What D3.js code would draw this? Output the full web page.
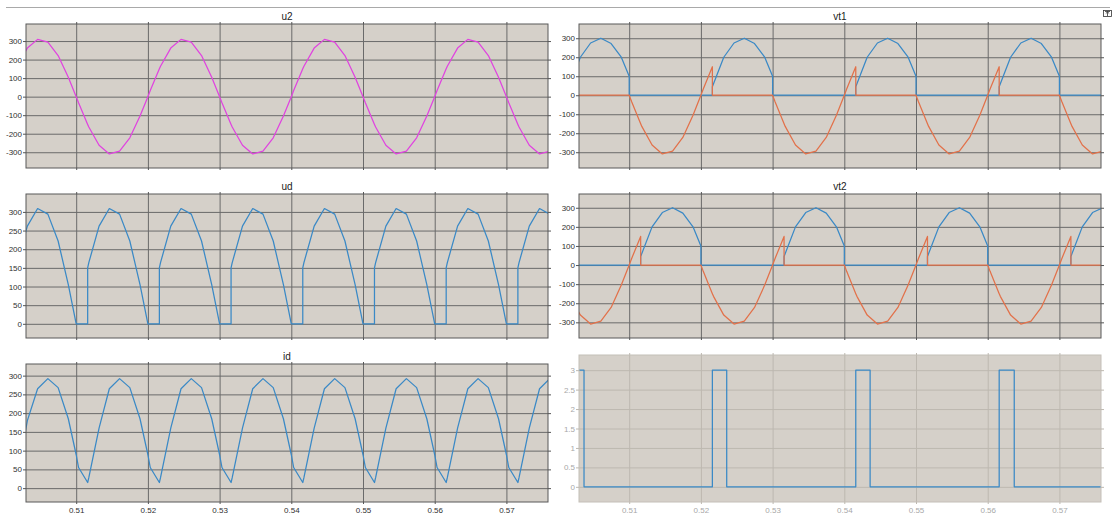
<!DOCTYPE html>
<html>
<head>
<meta charset="utf-8">
<script src="https://cdn.jsdelivr.net/npm/d3@7"></script>
<style>
  html, body { margin: 0; padding: 0; background: #ffffff; }
  svg { display: block; font-family: "Liberation Sans", Arial, Helvetica, sans-serif; }
</style>
</head>
<body>
<svg id="chart" width="1113" height="515"></svg>
<script>
// ---- sampled simulation output (s, V / A) ----
// Shared time base; repeated instants mark switching events (zero crossings and firing).
const time = [
  0.50176, 0.50319, 0.50462, 0.50605, 0.50748, 0.50890, 0.51, 0.51, 0.51033, 0.5116, 0.5116, 0.51176, 0.51319, 0.51462, 0.51605, 0.51748, 0.51890,
  0.52, 0.52, 0.52033, 0.5216, 0.5216, 0.52176, 0.52319, 0.52462, 0.52605, 0.52748, 0.52890, 0.53, 0.53, 0.53033, 0.5316, 0.5316, 0.53176, 0.53319, 0.53462, 0.53605, 0.53748, 0.53890,
  0.54, 0.54, 0.54033, 0.5416, 0.5416, 0.54176, 0.54319, 0.54462, 0.54605, 0.54748, 0.54890, 0.55, 0.55, 0.55033, 0.5516, 0.5516, 0.55176, 0.55319, 0.55462, 0.55605, 0.55748, 0.55890,
  0.56, 0.56, 0.56033, 0.5616, 0.5616, 0.56176, 0.56319, 0.56462, 0.56605, 0.56748, 0.56890, 0.57, 0.57, 0.57033, 0.5716, 0.5716, 0.57176, 0.57319, 0.57462, 0.57605
];

// supply voltage
const u2 = [
  164, 262, 309, 294, 222, 105, 0, 0, -33, -150, -150, -164, -262, -309, -294, -222, -105,
  0, 0, 33, 150, 150, 164, 262, 309, 294, 222, 105, 0, 0, -33, -150, -150, -164, -262, -309, -294, -222, -105,
  0, 0, 33, 150, 150, 164, 262, 309, 294, 222, 105, 0, 0, -33, -150, -150, -164, -262, -309, -294, -222, -105,
  0, 0, 33, 150, 150, 164, 262, 309, 294, 222, 105, 0, 0, -33, -150, -150, -164, -262, -309, -294
];

// rectified output voltage
const ud = [
  164, 262, 309, 294, 222, 105, 0, 0, 0, 0, 150, 164, 262, 309, 294, 222, 105,
  0, 0, 0, 0, 150, 164, 262, 309, 294, 222, 105, 0, 0, 0, 0, 150, 164, 262, 309, 294, 222, 105,
  0, 0, 0, 0, 150, 164, 262, 309, 294, 222, 105, 0, 0, 0, 0, 150, 164, 262, 309, 294, 222, 105,
  0, 0, 0, 0, 150, 164, 262, 309, 294, 222, 105, 0, 0, 0, 0, 150, 164, 262, 309, 294
];

// load current
const id = [
  28, 180, 265, 292, 268, 185, 89, 89, 55, 15, 15, 28, 160, 265, 292, 268, 185,
  89, 89, 55, 15, 15, 28, 160, 265, 292, 268, 185, 89, 89, 55, 15, 15, 28, 160, 265, 292, 268, 185,
  89, 89, 55, 15, 15, 28, 160, 265, 292, 268, 185, 89, 89, 55, 15, 15, 28, 160, 265, 292, 268, 185,
  89, 89, 55, 15, 15, 28, 160, 265, 292, 268, 185, 89, 89, 55, 15, 15, 28, 160, 265, 292
];

// thyristor VT1: two measured channels
const vt1A = [
  60, 200, 275, 300, 272, 200, 100, 0, 0, 0, 0, 0, 0, 0, 0, 0, 0,
  0, 0, 0, 0, 45, 60, 200, 275, 300, 272, 200, 100, 0, 0, 0, 0, 0, 0, 0, 0, 0, 0,
  0, 0, 0, 0, 45, 60, 200, 275, 300, 272, 200, 100, 0, 0, 0, 0, 0, 0, 0, 0, 0, 0,
  0, 0, 0, 0, 45, 60, 200, 275, 300, 272, 200, 100, 0, 0, 0, 0, 0, 0, 0, 0
];
const vt1B = [
  0, 0, 0, 0, 0, 0, 0, 0, -33, -150, -150, -164, -262, -309, -294, -222, -105,
  0, 0, 33, 150, 0, 0, 0, 0, 0, 0, 0, 0, 0, -33, -150, -150, -164, -262, -309, -294, -222, -105,
  0, 0, 33, 150, 0, 0, 0, 0, 0, 0, 0, 0, 0, -33, -150, -150, -164, -262, -309, -294, -222, -105,
  0, 0, 33, 150, 0, 0, 0, 0, 0, 0, 0, 0, 0, -33, -150, -150, -164, -262, -309, -294
];

// thyristor VT2: two measured channels
const vt2A = [
  0, 0, 0, 0, 0, 0, 0, 0, 0, 0, 45, 60, 200, 275, 300, 272, 200,
  100, 0, 0, 0, 0, 0, 0, 0, 0, 0, 0, 0, 0, 0, 0, 45, 60, 200, 275, 300, 272, 200,
  100, 0, 0, 0, 0, 0, 0, 0, 0, 0, 0, 0, 0, 0, 0, 45, 60, 200, 275, 300, 272, 200,
  100, 0, 0, 0, 0, 0, 0, 0, 0, 0, 0, 0, 0, 0, 0, 45, 60, 200, 275, 300
];
const vt2B = [
  -164, -262, -309, -294, -222, -105, 0, 0, 33, 150, 0, 0, 0, 0, 0, 0, 0,
  0, 0, -33, -150, -150, -164, -262, -309, -294, -222, -105, 0, 0, 33, 150, 0, 0, 0, 0, 0, 0, 0,
  0, 0, -33, -150, -150, -164, -262, -309, -294, -222, -105, 0, 0, 33, 150, 0, 0, 0, 0, 0, 0, 0,
  0, 0, -33, -150, -150, -164, -262, -309, -294, -222, -105, 0, 0, 33, 150, 0, 0, 0, 0, 0
];

// gate pulse train (step signal)
const pulseTime  = [0.5016, 0.5037, 0.5216, 0.5236, 0.5416, 0.5436, 0.5616, 0.5637, 0.5800];
const pulseLevel = [3, 0, 3, 0, 3, 0, 3, 0, 0];

// axis ticks
const xTicks = [0.51, 0.52, 0.53, 0.54, 0.55, 0.56, 0.57];
const xDomain = [0.5030, 0.5758];
const ticksAC    = [-300, -200, -100, 0, 100, 200, 300];
const ticksDC    = [0, 50, 100, 150, 200, 250, 300];
const ticksPulse = [0, 0.5, 1, 1.5, 2, 2.5, 3];

// ---- styling ----
const MAGENTA = "#e043e0";
const BLUE = "#3a89c6";
const ORANGE = "#e2714a";
const PLOT_BG = "#d5d0c9";

const svg = d3.select("#chart");

// header rule and the small dock icon at the right
svg.append("line")
  .attr("x1", 6).attr("x2", 1110).attr("y1", 7.5).attr("y2", 7.5)
  .attr("stroke", "#a9a9a9").attr("stroke-width", 1);
const icon = svg.append("g").attr("transform", "translate(1103.5,10.5)");
icon.append("rect").attr("width", 8).attr("height", 6)
  .attr("fill", "#fff").attr("stroke", "#333").attr("stroke-width", 0.8);
icon.append("path").attr("d", "M1.5,1 H6.5 M4,1.2 V5.5 M2.3,3 L4,1.4 L5.7,3")
  .attr("fill", "none").attr("stroke", "#333").attr("stroke-width", 0.8);

const panels = [
  { id: "p-u2",  title: "u2",  x0: 26,  x1: 548,  y0: 24,  y1: 168, yDomain: [-385, 392], yTicks: ticksAC,
    series: [{ t: time, v: u2, color: MAGENTA }] },
  { id: "p-vt1", title: "vt1", x0: 579, x1: 1101, y0: 24,  y1: 168, yDomain: [-383, 375], yTicks: ticksAC,
    series: [{ t: time, v: vt1A, color: BLUE }, { t: time, v: vt1B, color: ORANGE }] },
  { id: "p-ud",  title: "ud",  x0: 26,  x1: 548,  y0: 194, y1: 338, yDomain: [-38, 348], yTicks: ticksDC,
    series: [{ t: time, v: ud, color: BLUE }] },
  { id: "p-vt2", title: "vt2", x0: 579, x1: 1101, y0: 194, y1: 338, yDomain: [-382, 372], yTicks: ticksAC,
    series: [{ t: time, v: vt2A, color: BLUE }, { t: time, v: vt2B, color: ORANGE }] },
  { id: "p-id",  title: "id",  x0: 26,  x1: 548,  y0: 364, y1: 502, yDomain: [-37, 331], yTicks: ticksDC,
    series: [{ t: time, v: id, color: BLUE }], xLabels: true },
  { id: "p-g",   title: null,  x0: 579, x1: 1101, y0: 355, y1: 502, yDomain: [-0.39, 3.39], yTicks: ticksPulse,
    series: [{ t: pulseTime, v: pulseLevel, color: BLUE, step: true }], xLabels: true, faded: true }
];

panels.forEach(p => {
  const w = p.x1 - p.x0, h = p.y1 - p.y0;
  const x = d3.scaleLinear().domain(xDomain).range([p.x0, p.x1]);
  const y = d3.scaleLinear().domain(p.yDomain).range([p.y1, p.y0]);
  const gridColor = p.faded ? "#bdb8b0" : "#6a6a6a";
  const frameColor = p.faded ? "#c4bfb8" : "#585858";
  const labelColor = p.faded ? "#a8a8a8" : "#303030";
  const g = svg.append("g");

  g.append("rect").attr("x", p.x0).attr("y", p.y0).attr("width", w).attr("height", h)
    .attr("fill", PLOT_BG);

  // grid
  const gy = g.append("g").attr("transform", `translate(${p.x0},0)`)
    .call(d3.axisLeft(y).tickValues(p.yTicks).tickSize(-w).tickFormat(""));
  const gx = g.append("g").attr("transform", `translate(0,${p.y1})`)
    .call(d3.axisBottom(x).tickValues(xTicks).tickSize(-h).tickFormat(""));
  [gy, gx].forEach(a => {
    a.select(".domain").remove();
    a.selectAll("line").attr("stroke", gridColor).attr("stroke-width", 1);
  });

  // traces
  const clipId = "clip-" + p.id;
  g.append("clipPath").attr("id", clipId).append("rect")
    .attr("x", p.x0).attr("y", p.y0).attr("width", w).attr("height", h);
  const traces = g.append("g").attr("clip-path", `url(#${clipId})`);
  p.series.forEach(s => {
    const line = d3.line()
      .x(i => x(s.t[i]))
      .y(i => y(s.v[i]))
      .curve(s.step ? d3.curveStepAfter : d3.curveLinear);
    traces.append("path")
      .attr("d", line(d3.range(s.t.length)))
      .attr("fill", "none")
      .attr("stroke", s.color)
      .attr("stroke-width", 1.25)
      .attr("stroke-linejoin", "round");
  });

  // frame
  g.append("rect").attr("x", p.x0).attr("y", p.y0).attr("width", w).attr("height", h)
    .attr("fill", "none").attr("stroke", frameColor).attr("stroke-width", 1);

  // axes
  const fmtY = d => String(d);
  const left = g.append("g").attr("transform", `translate(${p.x0},0)`)
    .call(d3.axisLeft(y).tickValues(p.yTicks).tickSize(3).tickPadding(1).tickFormat(fmtY));
  const right = g.append("g").attr("transform", `translate(${p.x1},0)`)
    .call(d3.axisRight(y).tickValues(p.yTicks).tickSize(3).tickFormat(""));
  const top = g.append("g").attr("transform", `translate(0,${p.y0})`)
    .call(d3.axisTop(x).tickValues(xTicks).tickSize(2).tickFormat(""));
  const bottom = g.append("g").attr("transform", `translate(0,${p.y1})`)
    .call(d3.axisBottom(x).tickValues(xTicks).tickSize(2).tickPadding(3)
      .tickFormat(p.xLabels ? d3.format(".2f") : ""));
  [left, right, top, bottom].forEach(a => {
    a.select(".domain").remove();
    a.selectAll("line").attr("stroke", p.faded ? "#bdb8b0" : "#555");
    a.selectAll("text").attr("fill", labelColor).attr("font-size", 8)
      .attr("font-family", "'Liberation Sans', Arial, sans-serif");
  });

  if (p.title) {
    g.append("text")
      .attr("x", (p.x0 + p.x1) / 2).attr("y", p.y0 - 4)
      .attr("text-anchor", "middle")
      .attr("font-size", 10).attr("fill", "#222")
      .text(p.title);
  }
});
</script>
</body>
</html>
